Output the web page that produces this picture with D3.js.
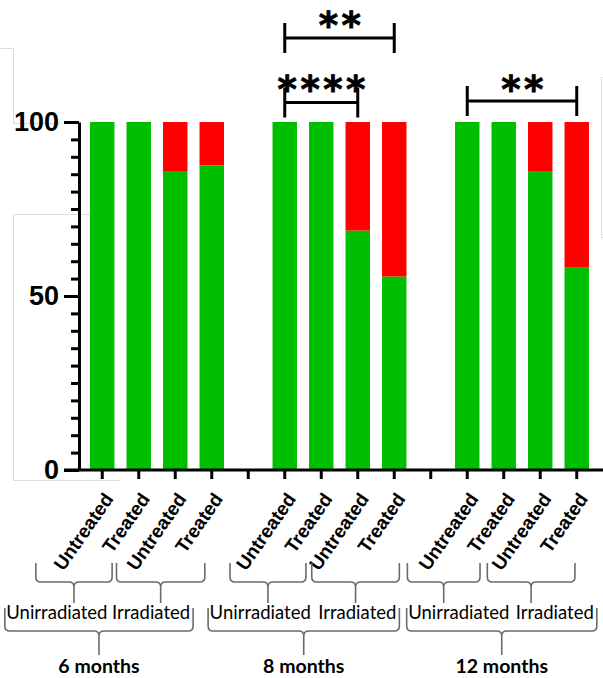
<!DOCTYPE html>
<html><head><meta charset="utf-8">
<script src="https://cdn.jsdelivr.net/npm/d3@7"></script>
<style>html,body{margin:0;padding:0;background:#fff}svg{display:block}</style>
</head><body><svg id="c" width="603" height="678"></svg>
<script>
// ---------- DATA ----------
const slots = ["6m-Unirr-Untreated","6m-Unirr-Treated","6m-Irr-Untreated","6m-Irr-Treated","gap1",
               "8m-Unirr-Untreated","8m-Unirr-Treated","8m-Irr-Untreated","8m-Irr-Treated","gap2",
               "12m-Unirr-Untreated","12m-Unirr-Treated","12m-Irr-Untreated","12m-Irr-Treated"];
const tickLabels = ["Untreated","Treated","Untreated","Treated","",
                    "Untreated","Treated","Untreated","Treated","",
                    "Untreated","Treated","Untreated","Treated"];
const greenPct = [100,100,85.7,87.5,null,100,100,68.8,55.6,null,100,100,85.7,58.3];
const redPct   = [0,0,14.3,12.5,null,0,0,31.2,44.4,null,0,0,14.3,41.7];
const yMajorTicks = [0,50,100];
const yMinorTicks = [5,10,15,20,25,30,35,40,45,55,60,65,70,75,80,85,90,95];
const monthLabels = ["6 months","8 months","12 months"];
const irradLabels = ["Unirradiated","Irradiated"];
const sigFrom = [5,5,10];
const sigTo = [8,7,13];
const sigText = ["**","****","**"];

// ---------- LAYOUT ----------
const W = 603, H = 678;
const svg = d3.select("#c");
const x = d3.scaleBand().domain(slots).range([84,595]).paddingInner(0.33).paddingOuter(0.165);
const y = d3.scaleLinear().domain([0,100]).range([470,122]);
const cx = i => x(slots[i]) + x.bandwidth()/2;
const u = d3.scaleLinear().domain([0,13]).range([cx(0), cx(13)]);
const axisX = 79;

// faint background artefacts
const faint = svg.append("g").attr("fill","none").attr("stroke","#dcdcdc").attr("stroke-width",1);
faint.append("path").attr("d","M0,48.5H13.5V123.5H60");
faint.append("path").attr("d","M90,214.5H13.5V480.5H120");
faint.append("path").attr("d","M603,77.5H601.5V237.5H603");

// bars
const rows = slots.map((s,i)=>({slot:s, green:greenPct[i], red:redPct[i]})).filter(d=>d.green!==null);
const stack = d3.stack().keys(["green","red"])(rows);
const colors = {green:"#00bf00", red:"#ff0000"};
svg.append("g").selectAll("g").data(stack).join("g")
  .attr("fill", d=>colors[d.key])
  .selectAll("rect").data(d=>d).join("rect")
  .attr("x", d=>x(d.data.slot))
  .attr("width", x.bandwidth())
  .attr("y", d=>y(d[1]))
  .attr("height", d=>y(d[0])-y(d[1]));

// y axis
const yAxis = svg.append("g").attr("transform",`translate(${axisX},0)`)
  .call(d3.axisLeft(y).tickValues(yMajorTicks).tickSize(15).tickSizeOuter(0).tickPadding(5));
yAxis.select(".domain").attr("stroke-width",3).attr("stroke","#000");
yAxis.selectAll(".tick line").attr("stroke-width",3);
yAxis.selectAll(".tick text").attr("font-family","'Liberation Sans', Arial, sans-serif")
  .attr("font-weight","bold").attr("font-size",27).attr("fill","#000");
const yMinor = svg.append("g").attr("transform",`translate(${axisX},0)`)
  .call(d3.axisLeft(y).tickValues(yMinorTicks).tickSize(8).tickSizeOuter(0).tickFormat(""));
yMinor.select(".domain").remove();
yMinor.selectAll(".tick line").attr("stroke-width",3);

// x axis
const xAxis = svg.append("g").attr("transform",`translate(0,${y(0)})`)
  .call(d3.axisBottom(x).tickSize(9).tickSizeOuter(0).tickFormat(""));
xAxis.select(".domain").remove();
xAxis.selectAll(".tick line").attr("stroke-width",3);
svg.append("line").attr("x1",axisX-15).attr("x2",W).attr("y1",y(0)).attr("y2",y(0))
  .attr("stroke","#000").attr("stroke-width",3);

// rotated tick labels
svg.append("g").selectAll("text").data(tickLabels.map((t,i)=>({t,i})).filter(d=>d.t))
  .join("text")
  .attr("transform", d=>`translate(${cx(d.i)+12},${499}) rotate(-55)`)
  .attr("text-anchor","end")
  .attr("font-family","'Liberation Sans', Arial, sans-serif")
  .attr("font-weight","bold").attr("font-size",19).attr("fill","#000")
  .text(d=>d.t);

// significance brackets
const sigLineY = [38,102.5,101];
const sigStarY = [15.5,80,79.5];
sigText.forEach((t,k)=>{
  const x1 = cx(sigFrom[k]), x2 = cx(sigTo[k]), yl = sigLineY[k];
  const g = svg.append("g").attr("stroke","#000").attr("stroke-width",3);
  g.append("line").attr("x1",x1).attr("x2",x2).attr("y1",yl).attr("y2",yl);
  g.append("line").attr("x1",x1).attr("x2",x1).attr("y1",yl-15).attr("y2",yl+15);
  g.append("line").attr("x1",x2).attr("x2",x2).attr("y1",yl-15).attr("y2",yl+15);
  const fs = 37;
  svg.append("text").attr("x",(x1+x2)/2 + 2).attr("y",sigStarY[k] + 0.6*fs)
    .attr("text-anchor","middle").attr("font-family","'DejaVu Sans', sans-serif")
    .attr("font-weight","bold").attr("font-size",fs).attr("letter-spacing",3.5).attr("fill","#000")
    .attr("stroke","#000").attr("stroke-width",0.8)
    .text(t);
});

// braces
function brace(l, r, top, corner, bottom){
  const m = (l+r)/2, rr = 5;
  return `M${l},${top}V${corner-rr}Q${l},${corner} ${l+rr},${corner}H${m-rr}Q${m},${corner} ${m},${corner+rr}V${bottom}`+
         `M${m},${corner+rr}Q${m},${corner} ${m+rr},${corner}H${r-rr}Q${r},${corner} ${r},${corner-rr}V${top}`;
}
const level1 = [[-1.82,0.27],[0.39,2.81],[3.50,5.58],[5.74,8.14],[8.36,10.35],[10.55,12.95]];
const level2 = [[-2.67,2.49],[2.90,8.14],[8.34,13.55]];
const bg = svg.append("g").attr("fill","none").attr("stroke","#6b6b6b").attr("stroke-width",1.6);
level1.forEach(([a,b])=> bg.append("path").attr("d", brace(u(a),u(b),563,582,603)));
level2.forEach(([a,b])=> bg.append("path").attr("d", brace(u(a),u(b),608,631,655)));

// group labels
const lab = svg.append("g").attr("font-family","Lato, 'Open Sans', sans-serif").attr("fill","#000");
level2.forEach(([a,b],k)=>{
  lab.append("text").attr("x",u(a)+1.5).attr("y",619).attr("font-size",18.5).attr("text-anchor","start").text(irradLabels[0]);
  lab.append("text").attr("x",u(b)-3).attr("y",619).attr("font-size",18.5).attr("text-anchor","end").text(irradLabels[1]);
  lab.append("text").attr("x",(u(a)+u(b))/2).attr("y",673).attr("font-size",19.5).attr("font-weight","bold")
    .attr("text-anchor","middle").text(monthLabels[k]);
});
</script></body></html>
